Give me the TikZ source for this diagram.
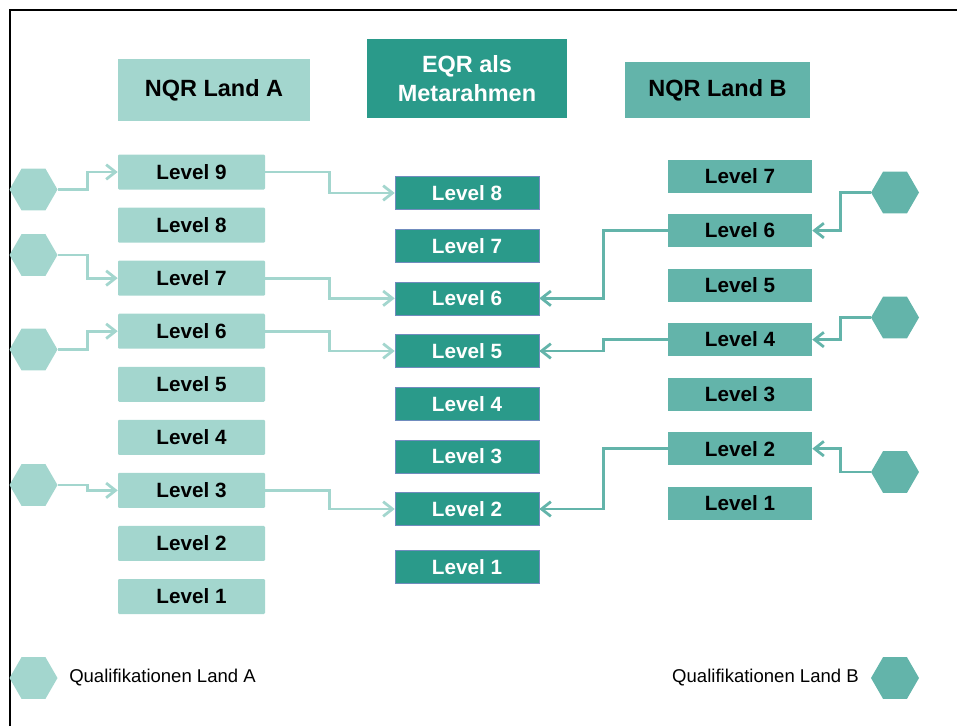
\documentclass[tikz,border=0pt]{standalone}
\usepackage{fontspec}
\setmainfont{Liberation Sans}
\usetikzlibrary{shapes.geometric,arrows.meta}
\definecolor{landA}{RGB}{163,214,206}
\definecolor{landB}{RGB}{99,180,170}
\definecolor{eqr}{RGB}{42,154,138}
\definecolor{eqredge}{RGB}{112,140,190}
\begin{document}
\begin{tikzpicture}[x=0.75pt,y=-0.75pt,
                head/.style={font=\fontsize{17.6pt}{21.75pt}\selectfont\bfseries,align=center,inner sep=0pt},
                lvl/.style={font=\fontsize{15.5pt}{18pt}\selectfont\bfseries,inner sep=0pt,minimum width=108pt,minimum height=24.75pt},
                lvlA/.style={lvl,fill=landA,rounded corners=0.8pt,minimum width=110.25pt,minimum height=26.25pt,node distance=39.8pt},
                lvlB/.style={lvl,fill=landB,node distance=40.9pt},
                lvlEQR/.style={lvl,fill=eqr,draw=eqredge,line width=0.4pt,text=white,node distance=39.5pt},
                hexA/.style={regular polygon,regular polygon sides=6,minimum size=36pt,inner sep=0pt,fill=landA},
                hexB/.style={hexA,fill=landB},
                linkA/.style={draw=landA,line width=2.1pt,-{Straight Barb[length=7pt,width=11pt]}},
                linkB/.style={linkA,draw=landB},
                legend/.style={font=\fontsize{13.9pt}{16pt}\selectfont,inner sep=0pt}]
                \useasboundingbox (0,0) rectangle (957,726);
                \draw[line width=1.5pt] (9.5,726) -- (9.5,9.5) -- (957,9.5);

                \path (214,90) node[head,fill=landA,minimum width=144pt,minimum height=46.5pt] (headA) {NQR Land A};
                \path (467,78.5) node[head,fill=eqr,text=white,minimum width=150pt,minimum height=59.25pt] (headEQR) {EQR als\\Metarahmen};
                \path (717.5,90) node[head,fill=landB,minimum width=138.75pt,minimum height=42pt] (headB) {NQR Land B};

                \path (191.5,172) node[lvlA] (A9) {Level 9};
                \path node[lvlA,below of=A9] (A8) {Level 8};
                \path node[lvlA,below of=A8] (A7) {Level 7};
                \path node[lvlA,below of=A7] (A6) {Level 6};
                \path node[lvlA,below of=A6] (A5) {Level 5};
                \path node[lvlA,below of=A5] (A4) {Level 4};
                \path node[lvlA,below of=A4] (A3) {Level 3};
                \path node[lvlA,below of=A3] (A2) {Level 2};
                \path node[lvlA,below of=A2] (A1) {Level 1};

                \path (467,193) node[lvlEQR] (E8) {Level 8};
                \path node[lvlEQR,below of=E8] (E7) {Level 7};
                \path node[lvlEQR,below of=E7] (E6) {Level 6};
                \path node[lvlEQR,below of=E6] (E5) {Level 5};
                \path node[lvlEQR,below of=E5] (E4) {Level 4};
                \path node[lvlEQR,below of=E4] (E3) {Level 3};
                \path node[lvlEQR,below of=E3] (E2) {Level 2};
                \path node[lvlEQR,below of=E2,node distance=43.5pt] (E1) {Level 1};

                \path (740,176) node[lvlB] (B7) {Level 7};
                \path node[lvlB,below of=B7] (B6) {Level 6};
                \path node[lvlB,below of=B6] (B5) {Level 5};
                \path node[lvlB,below of=B5] (B4) {Level 4};
                \path node[lvlB,below of=B4] (B3) {Level 3};
                \path node[lvlB,below of=B3] (B2) {Level 2};
                \path node[lvlB,below of=B2] (B1) {Level 1};

                \path (33.5,189.5) node[hexA] (hA1) {};
                \path (33.5,255) node[hexA] (hA2) {};
                \path (33.5,349.5) node[hexA] (hA3) {};
                \path (33.5,485) node[hexA] (hA4) {};
                \path (895,192.5) node[hexB] (hB1) {};
                \path (895,317.5) node[hexB] (hB2) {};
                \path (895,472) node[hexB] (hB3) {};

                \draw[linkA] (hA1.east) -- ++(30,0) |- (A9.west);
                \draw[linkA] (hA2.east) -- ++(30,0) |- (A7.west);
                \draw[linkA] (hA3.east) -- ++(30,0) |- (A6.west);
                \draw[linkA] (hA4.east) -- ++(30,0) |- (A3.west);
                \draw[linkA] (A9.east) -- ++(64,0) |- (E8.west);
                \draw[linkA] (A7.east) -- ++(64,0) |- (E6.west);
                \draw[linkA] (A6.east) -- ++(64,0) |- (E5.west);
                \draw[linkA] (A3.east) -- ++(64,0) |- (E2.west);

                \draw[linkB] (hB1.west) -- ++(-30,0) |- (B6.east);
                \draw[linkB] (hB2.west) -- ++(-30,0) |- (B4.east);
                \draw[linkB] (hB3.west) -- ++(-30,0) |- (B2.east);
                \draw[linkB] (B6.west) -- ++(-64,0) |- (E6.east);
                \draw[linkB] (B4.west) -- ++(-64,0) |- (E5.east);
                \draw[linkB] (B2.west) -- ++(-64,0) |- (E2.east);

                \path (33.5,678) node[hexA] (legA) {};
                \path (69,678) node[legend,anchor=west] (legAtext) {Qualifikationen Land A};
                \path (895,678) node[hexB] (legB) {};
                \path (859,678) node[legend,anchor=east] (legBtext) {Qualifikationen Land B};
              \end{tikzpicture}
\end{document}
